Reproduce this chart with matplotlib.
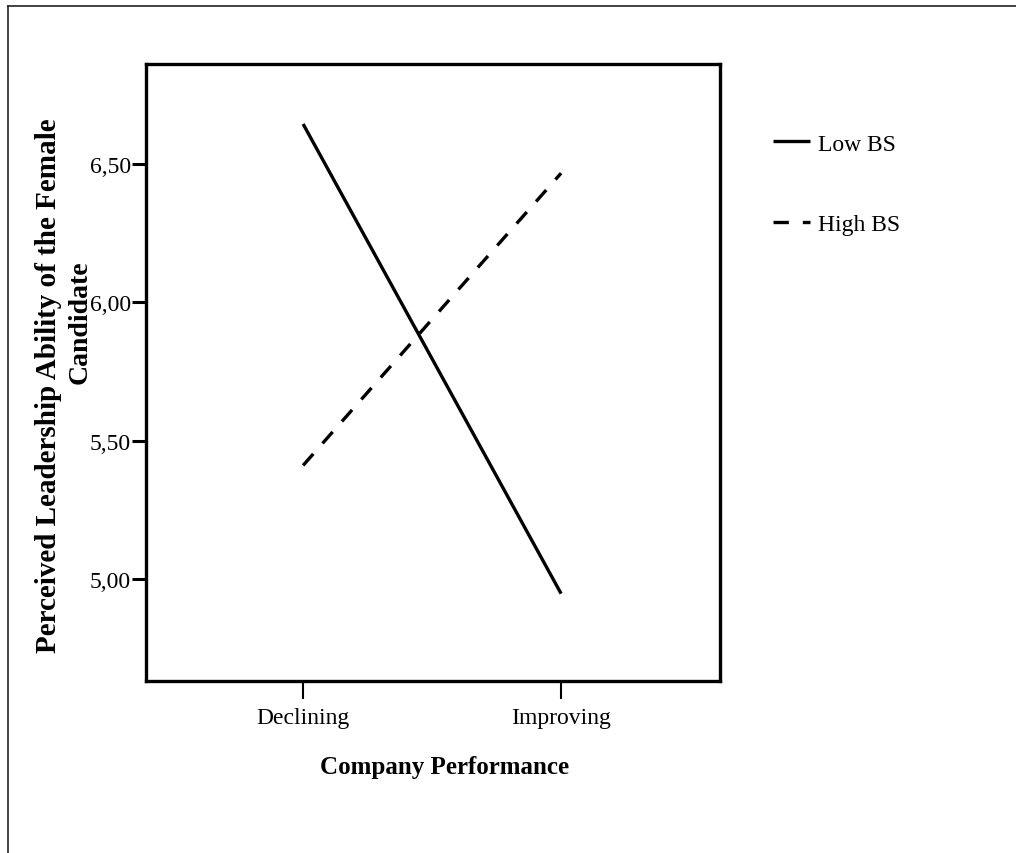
import matplotlib
matplotlib.use("Agg")
import matplotlib.pyplot as plt
from matplotlib.lines import Line2D

# interaction plot: company performance x benevolent sexism
conditions = ["Declining", "Improving"]
low_bs = [6.645, 4.946]
high_bs = [5.41, 6.467]
series_names = ["Low BS", "High BS"]
y_ticks = [5.00, 5.50, 6.00, 6.50]

W, H = 1016, 854
plt.rcParams["font.family"] = ["Liberation Serif", "DejaVu Serif"]

fig = plt.figure(figsize=(W / 100, H / 100), dpi=100)
ax = fig.add_axes([146 / W, 1 - 682 / H, (720 - 146) / W, (682 - 65) / H])

x = list(range(len(conditions)))
ln_low, = ax.plot(x, low_bs, color="black", lw=2.4, solid_capstyle="butt")
ln_high, = ax.plot(x, high_bs, color="black", lw=2.4, dashes=(4.6, 4.2))

ax.set_xlim(-0.609, 1.616)
ax.set_ylim(4.63, 6.862)

ax.set_xticks(x)
ax.set_xticklabels(conditions, fontsize=17)
ax.set_yticks(y_ticks)
ax.set_yticklabels([f"{v:.2f}".replace(".", ",") for v in y_ticks], fontsize=17)
ax.tick_params(axis="y", length=10, width=2.2, pad=1, direction="out")
ax.tick_params(axis="x", length=13, width=1.5, pad=6, direction="out")
for sp in ax.spines.values():
    sp.set_linewidth(2.4)

# axis titles
fig.text(445 / W, 1 - 768 / H, "Company Performance", fontsize=18,
         fontweight="bold", ha="center", va="center")
fig.text(49 / W, 1 - 386 / H, "Perceived Leadership Ability of the Female",
         fontsize=21, fontweight="bold", rotation=90, ha="center", va="center")
fig.text(80 / W, 1 - 322 / H, "Candidate",
         fontsize=20, fontweight="bold", rotation=90, ha="center", va="center")

# legend on the right
fig.legend([ln_low, ln_high], series_names, loc="upper left",
           bbox_to_anchor=(773 / W, 1 - 134 / H), bbox_transform=fig.transFigure,
           frameon=False, fontsize=17, handlelength=1.57, handletextpad=0.34,
           labelspacing=2.5, borderpad=0, borderaxespad=0)

# outer frame (cut off at right and bottom)
fig.add_artist(Line2D([8 / W, 8 / W], [0, 1 - 7 / H], transform=fig.transFigure,
                      color="#222222", lw=1.2))
fig.add_artist(Line2D([8 / W, 1], [1 - 7 / H, 1 - 7 / H], transform=fig.transFigure,
                      color="#222222", lw=1.2))

fig.savefig("out.png", dpi=100)
